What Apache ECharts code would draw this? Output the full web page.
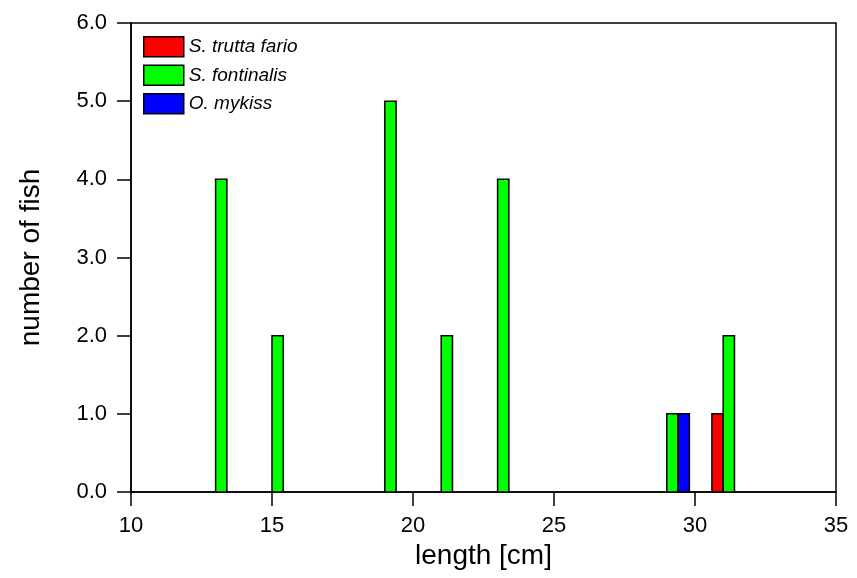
<!DOCTYPE html>
<html>
<head>
<meta charset="utf-8">
<script src="https://cdn.jsdelivr.net/npm/echarts@6/dist/echarts.min.js"></script>
<style>
  html, body { margin: 0; padding: 0; background: #fff; }
  #chart { width: 857px; height: 578px; }
</style>
</head>
<body>
<div id="chart"></div>
<script>
// length classes (bar centres, cm) and counts per species
const truttaX = [30.8];
const truttaN = [1];
const fontinalisX = [13.2, 15.2, 19.2, 21.2, 23.2, 29.2, 31.2];
const fontinalisN = [4, 2, 5, 2, 4, 1, 2];
const mykissX = [29.6];
const mykissN = [1];

const xTicks = [10, 15, 20, 25, 30, 35];
const yTicks = [0, 1, 2, 3, 4, 5, 6];

const halfW = 0.2; // half bar width in cm
const font = '"Liberation Sans", Arial, sans-serif';

function pairs(xs, ns) {
  return xs.map((x, i) => [x, ns[i]]);
}

function renderBar(params, api) {
  let x = api.value(0);
  let n = api.value(1);
  let p0 = api.coord([x - halfW, n]);
  let p1 = api.coord([x + halfW, 0]);
  return {
    type: 'rect',
    shape: { x: p0[0], y: p0[1], width: p1[0] - p0[0], height: p1[1] - p0[1] },
    style: {
      fill: api.visual('color'),
      stroke: '#000',
      lineWidth: 1.5
    }
  };
}

function barSeries(name, color, xs, ns) {
  return {
    name: name,
    type: 'custom',
    renderItem: renderBar,
    itemStyle: { color: color },
    encode: { x: 0, y: 1 },
    data: pairs(xs, ns)
  };
}

let dom = echarts.init(document.getElementById('chart'));
let option = {
  animation: false,
  backgroundColor: '#fff',
  grid: {
    left: 131,
    right: 21,
    top: 23,
    bottom: 86,
    show: true,
    borderColor: '#000',
    borderWidth: 1.5
  },
  legend: {
    orient: 'vertical',
    left: 138,
    top: 31,
    itemWidth: 40,
    itemHeight: 20,
    itemGap: 7,
    icon: 'rect',
    itemStyle: { borderColor: '#000', borderWidth: 1.5 },
    textStyle: { fontFamily: font, fontStyle: 'italic', fontSize: 19, color: '#000' },
    data: ['S. trutta fario', 'S. fontinalis', 'O. mykiss']
  },
  xAxis: {
    type: 'value',
    min: xTicks[0],
    max: xTicks[xTicks.length - 1],
    interval: 5,
    name: 'length [cm]',
    nameLocation: 'middle',
    nameGap: 47,
    nameTextStyle: { fontFamily: font, fontSize: 28, color: '#000' },
    axisLine: { lineStyle: { color: '#000', width: 1.5 } },
    axisTick: { inside: false, length: 14, lineStyle: { color: '#000', width: 1.5 } },
    axisLabel: { margin: 23, fontFamily: font, fontSize: 22, color: '#000' },
    splitLine: { show: false }
  },
  yAxis: {
    type: 'value',
    min: yTicks[0],
    max: yTicks[yTicks.length - 1],
    interval: 1,
    name: 'number of fish',
    nameLocation: 'middle',
    nameGap: 86,
    nameTextStyle: { fontFamily: font, fontSize: 28, color: '#000' },
    axisLine: { show: true, lineStyle: { color: '#000', width: 1.5 } },
    axisTick: { show: true, inside: false, length: 14, lineStyle: { color: '#000', width: 1.5 } },
    axisLabel: {
      margin: 24,
      fontFamily: font,
      fontSize: 22,
      color: '#000',
      formatter: (v) => v.toFixed(1)
    },
    splitLine: { show: false }
  },
  series: [
    barSeries('S. trutta fario', '#ff0000', truttaX, truttaN),
    barSeries('S. fontinalis', '#00ff00', fontinalisX, fontinalisN),
    barSeries('O. mykiss', '#0000ff', mykissX, mykissN)
  ]
};
dom.setOption(option);
</script>
</body>
</html>
